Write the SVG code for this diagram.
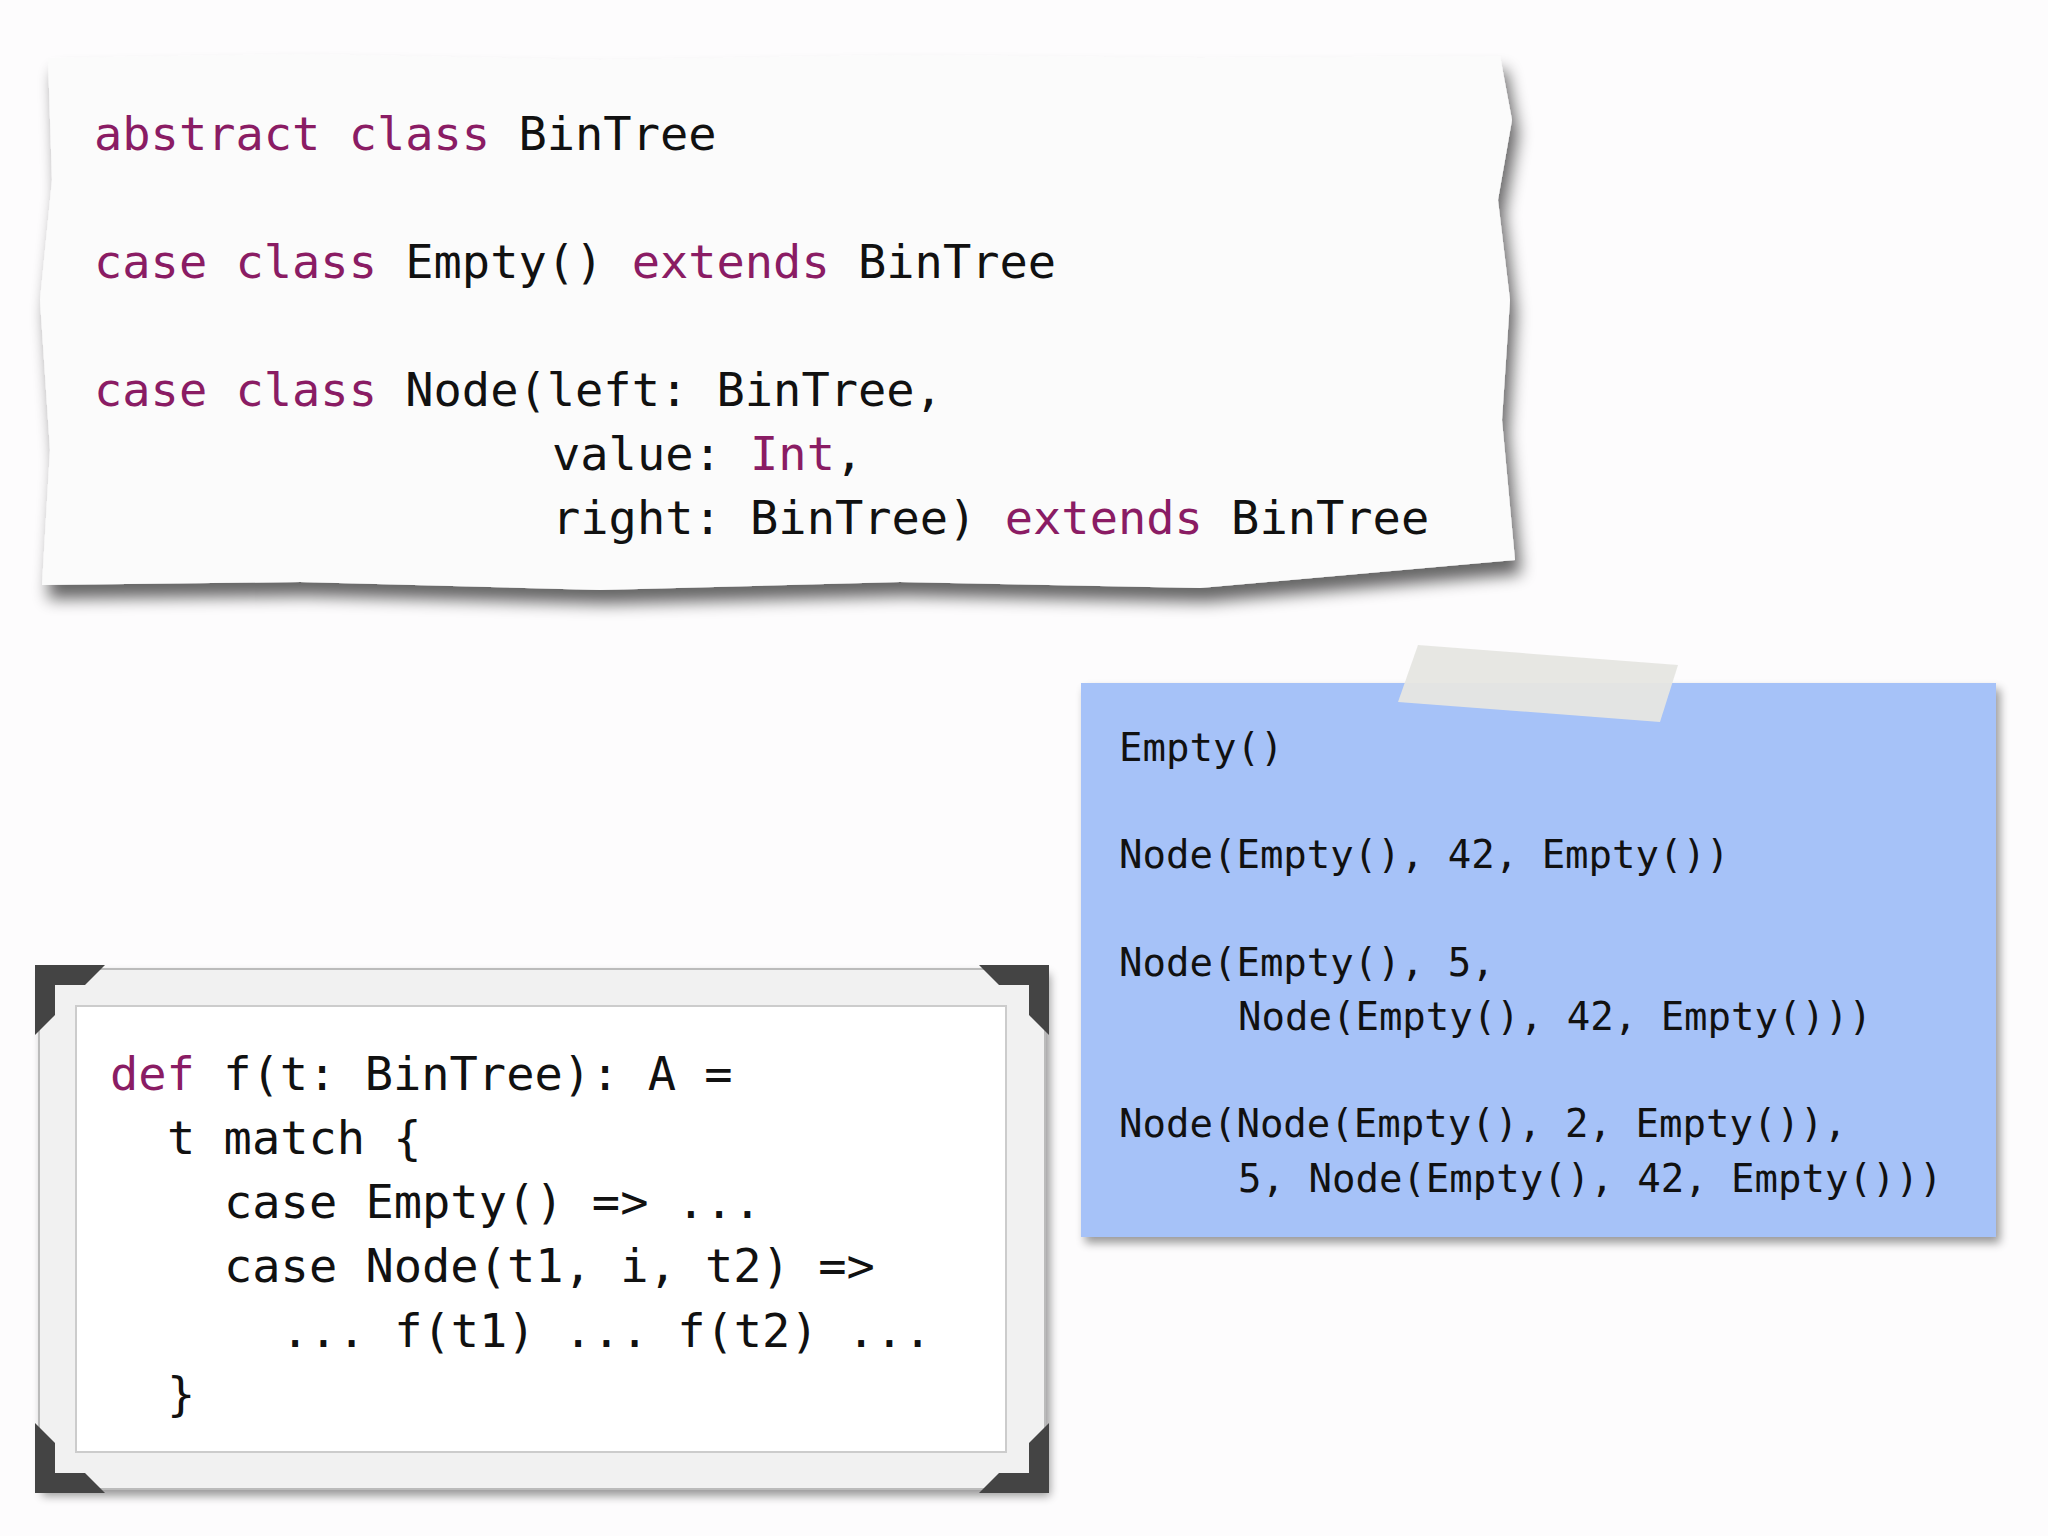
<svg xmlns="http://www.w3.org/2000/svg" width="2048" height="1536" viewBox="0 0 2048 1536">
<style>
.c{font-family:"DejaVu Sans Mono","Liberation Mono",monospace;fill:#111}
.k{fill:#8a1c64}
.big{font-size:47px}
.sm{font-size:39px}
</style>
<defs>
<filter id="sh" x="-10%" y="-10%" width="120%" height="130%"><feGaussianBlur in="SourceAlpha" stdDeviation="8"/><feOffset dx="6" dy="14"/><feComponentTransfer><feFuncA type="linear" slope="0.6"/></feComponentTransfer><feMerge><feMergeNode/><feMergeNode in="SourceGraphic"/></feMerge></filter>
<filter id="sh2" x="-10%" y="-10%" width="120%" height="130%"><feGaussianBlur in="SourceAlpha" stdDeviation="5"/><feOffset dx="4" dy="6"/><feComponentTransfer><feFuncA type="linear" slope="0.4"/></feComponentTransfer><feMerge><feMergeNode/><feMergeNode in="SourceGraphic"/></feMerge></filter>
</defs>
<rect width="2048" height="1536" fill="#fdfcfd"/>
<g id="paper">
<path filter="url(#sh)" fill="#fbfbfb" d="M48,58 L300,54 L600,60 L900,55 L1200,58 L1500,56 L1512,120 L1498,200 L1510,300 L1502,420 L1515,560 L1200,588 L900,582 L600,590 L300,582 L42,585 L50,450 L40,300 L52,180 Z"/>
<text class="c big" x="94" y="150"><tspan class="k">abstract class</tspan> BinTree</text>
<text class="c big" x="94" y="278"><tspan class="k">case class</tspan> Empty() <tspan class="k">extends</tspan> BinTree</text>
<text class="c big" x="94" y="406"><tspan class="k">case class</tspan> Node(left: BinTree,</text>
<text class="c big" x="552" y="470">value: <tspan class="k">Int</tspan>,</text>
<text class="c big" x="552" y="534">right: BinTree) <tspan class="k">extends</tspan> BinTree</text>
</g>
<g id="note">
<rect filter="url(#sh2)" x="1081" y="683" width="915" height="554" fill="#a6c2f8"/>
<polygon points="1418,645 1678,665 1660,722 1398,702" fill="#e6e6e2" opacity="0.95"/>
<text class="c sm" x="1119" y="761">Empty()</text>
<text class="c sm" x="1119" y="868">Node(Empty(), 42, Empty())</text>
<text class="c sm" x="1119" y="976">Node(Empty(), 5,</text>
<text class="c sm" x="1238" y="1030">Node(Empty(), 42, Empty()))</text>
<text class="c sm" x="1119" y="1137">Node(Node(Empty(), 2, Empty()),</text>
<text class="c sm" x="1238" y="1192">5, Node(Empty(), 42, Empty()))</text>
</g>
<g id="frame">
<rect filter="url(#sh2)" x="39" y="969" width="1006" height="520" fill="#f1f1f1" stroke="#bbb" stroke-width="2"/>
<rect x="76" y="1006" width="930" height="446" fill="#fff" stroke="#ccc" stroke-width="2"/>
<g fill="#444">
<polygon points="35,965 105,965 85,985 55,985 55,1015 35,1035"/>
<polygon points="1049,965 979,965 999,985 1029,985 1029,1015 1049,1035"/>
<polygon points="35,1493 105,1493 85,1473 55,1473 55,1443 35,1423"/>
<polygon points="1049,1493 979,1493 999,1473 1029,1473 1029,1443 1049,1423"/>
</g>
<text class="c big" x="110" y="1090"><tspan class="k">def</tspan> f(t: BinTree): A =</text>
<text class="c big" x="167" y="1154">t match {</text>
<text class="c big" x="224" y="1218">case Empty() =&gt; ...</text>
<text class="c big" x="224" y="1282">case Node(t1, i, t2) =&gt;</text>
<text class="c big" x="281" y="1347">... f(t1) ... f(t2) ...</text>
<text class="c big" x="167" y="1410">}</text>
</g>
</svg>
